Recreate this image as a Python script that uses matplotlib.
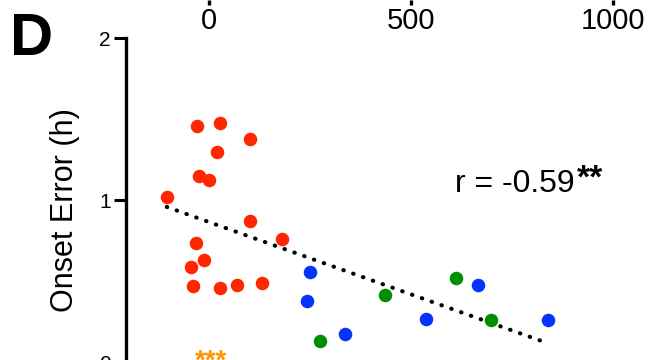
import matplotlib.pyplot as plt

plt.rcParams['font.family'] = ['Liberation Sans', 'DejaVu Sans']

# values (x on the same scale as the axis above)
red_x = [-29, 28, 103, 21, -24, 1, -104, 103, 181, -31, -11, -43, -40, 28, 69, 132]
red_y = [1.457, 1.473, 1.375, 1.296, 1.146, 1.123, 1.017, 0.869, 0.759, 0.733,
         0.628, 0.585, 0.467, 0.455, 0.475, 0.490]
blue_x = [250, 244, 338, 537, 667, 839]
blue_y = [0.557, 0.377, 0.175, 0.267, 0.475, 0.257]
green_x = [276, 436, 612, 698]
green_y = [0.128, 0.415, 0.517, 0.257]
fit_x = [-104, 825]
fit_y = [0.957, 0.128]
top_ticks = [0, 500, 1000]
y_ticks = [0, 1, 2]
x_lim = (-205, 1109)

W, H = 657, 360
fig = plt.figure(figsize=(W / 100, H / 100), dpi=100)


def fx(p):
    return p / W


def fy(p):
    return 1 - p / H


# panel D
ax = fig.add_axes([fx(126), fy(362), 1 - fx(126), (362 - 38) / H])
ax.set_xlim(*x_lim)
ax.set_ylim(0, 2)
for s in ['top', 'right', 'bottom']:
    ax.spines[s].set_visible(False)
ax.spines['left'].set_linewidth(2.4)
ax.set_xticks([])
ax.set_yticks(y_ticks)
ax.tick_params(axis='y', length=9, width=2.2, labelsize=15, pad=2)

ax.plot(fit_x, fit_y, color='black', lw=3, linestyle=(0, (0.1, 2.4)),
        dash_capstyle='round', zorder=1)
ax.scatter(red_x, red_y, s=95, color='#ff2600', lw=0, zorder=2, clip_on=False)
ax.scatter(blue_x, blue_y, s=95, color='#0433ff', lw=0, zorder=2, clip_on=False)
ax.scatter(green_x, green_y, s=95, color='#008f00', lw=0, zorder=2, clip_on=False)

# bottom of the panel above (only its ticks and labels show)
ax_top = fig.add_axes([fx(126), 1.0, 1 - fx(126), 0.2])
ax_top.set_xlim(*x_lim)
ax_top.set_yticks([])
for s in ['top', 'right', 'left', 'bottom']:
    ax_top.spines[s].set_visible(False)
ax_top.set_xticks(top_ticks)
ax_top.tick_params(axis='x', length=3.8, width=2.4, labelsize=21, pad=1)
ax_top.patch.set_visible(False)

fig.text(fx(65), fy(210), 'Onset Error (h)', rotation=90, ha='center',
         va='center', fontsize=22)
fig.text(fx(455), fy(192), 'r = -0.59', fontsize=23, va='baseline')
fig.text(fx(577), fy(188), '**', fontsize=24, fontweight='bold', va='baseline')
fig.text(fx(195), fy(369), '***', fontsize=20, fontweight='bold',
         color='#ff9300', va='baseline')
fig.text(fx(10), fy(55), 'D', fontsize=43, fontweight='bold', va='baseline')

fig.savefig('out.png', dpi=100)
